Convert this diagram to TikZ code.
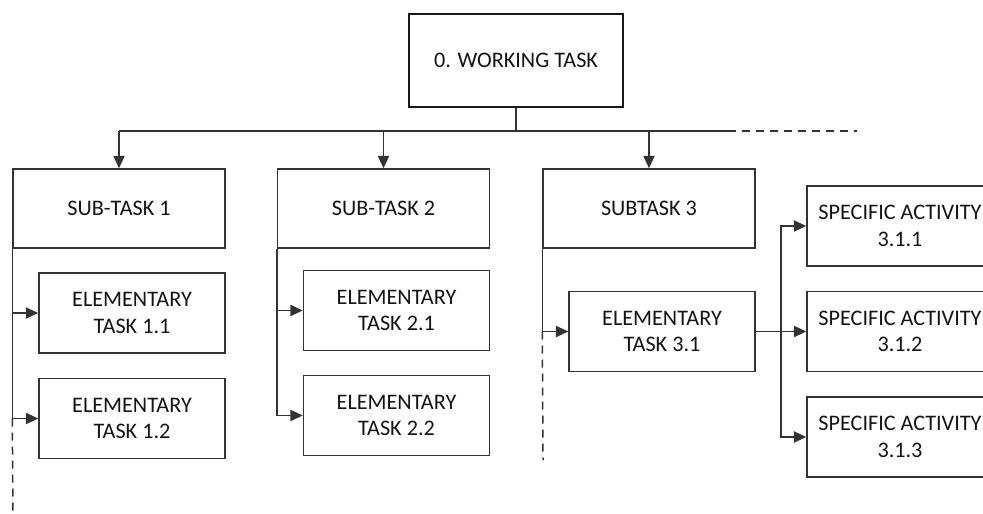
\documentclass[tikz,border=0pt]{standalone}
\usepackage{fontspec}
\setmainfont{Carlito}
\usetikzlibrary{arrows.meta}
\begin{document}
\begin{tikzpicture}[x=0.5pt,y=-0.5pt,
  every node/.style={font=\fontsize{11.1}{13.3}\selectfont, text=black!92, align=center, inner sep=0pt},
  box/.style={draw=black!80, line width=0.75pt, rectangle},
  topbox/.style={draw=black!90, line width=1.25pt, rectangle, minimum width=107pt, minimum height=46.5pt},
  subbox/.style={box, minimum width=106pt, minimum height=39.5pt},
  elbox/.style={box, minimum width=93pt, minimum height=40pt},
  ln/.style={draw=black!80, line width=0.75pt},
  arr/.style={ln, -{Triangle[length=6.2pt,width=5.6pt]}},
  dsh/.style={ln, dash pattern=on 4pt off 3pt}
]
\clip (0,0) rectangle (983,513);
\fill[white] (0,0) rectangle (983,513);

\node[topbox] (W) at (516,60.5) {0. WORKING TASK};

\node[subbox] (S1) at (119,208.5) {SUB-TASK 1};
\node[subbox] (S2) at (383.5,208.5) {SUB-TASK 2};
\node[subbox] (S3) at (649,208.5) {SUBTASK 3};

\node[elbox] (E11) at (132,313) {ELEMENTARY\\TASK 1.1};
\node[elbox] (E12) at (132,418.5) {ELEMENTARY\\TASK 1.2};
\node[elbox] (E21) at (396.5,310.5) {ELEMENTARY\\TASK 2.1};
\node[elbox] (E22) at (396.5,415.5) {ELEMENTARY\\TASK 2.2};
\node[elbox] (E31) at (662,331.5) {ELEMENTARY\\TASK 3.1};

\node[elbox] (A1) at (900,226) {SPECIFIC ACTIVITY\\3.1.1};
\node[elbox] (A2) at (900,331.5) {SPECIFIC ACTIVITY\\3.1.2};
\node[elbox] (A3) at (900,437) {SPECIFIC ACTIVITY\\3.1.3};

% top bus
\coordinate (J) at (516,131);
\coordinate (busR) at (728,131);
\coordinate (busE) at (857,131);
\draw[ln] (W.south) -- (J);
\draw[ln] (S1.north |- J) -- (busR);
\draw[dsh] (busR) -- (busE);
\draw[arr] (S1.north |- J) -- (S1.north);
\draw[arr] (S2.north |- J) -- (S2.north);
\draw[arr] (S3.north |- J) -- (S3.north);

% sub-task 1
\coordinate (end1) at (13,513);
\draw[arr] (S1.south west) |- (E11.west);
\draw[arr] (S1.south west) |- (E12.west);
\draw[dsh] (S1.south west |- E12.west) -- (end1);

% sub-task 2
\draw[arr] (S2.south west) |- (E21.west);
\draw[arr] (S2.south west) |- (E22.west);

% subtask 3
\coordinate (end3) at (543,460);
\draw[arr] (S3.south west) |- (E31.west);
\draw[dsh] (S3.south west |- E31.west) -- (end3);

% specific activities
\coordinate (V) at (781,331.5);
\draw[arr] (E31.east) -- (A2.west);
\draw[arr] (V) |- (A1.west);
\draw[arr] (V) |- (A3.west);
\end{tikzpicture}
\end{document}
